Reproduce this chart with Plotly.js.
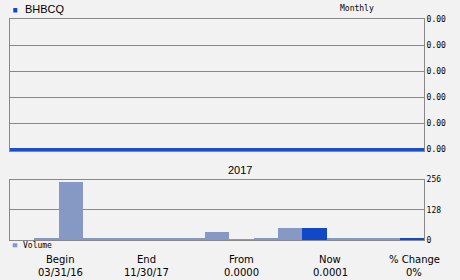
<!DOCTYPE html>
<html>
<head>
<meta charset="utf-8">
<script src="https://cdn.plot.ly/plotly-3.0.1.min.js"></script>
<style>html,body{margin:0;padding:0;background:#f2f2f2;}#chart{width:460px;height:280px;}</style>
</head>
<body>
<div id="chart"></div>
<script>
// ---- data ----
var periods = [0,1,2,3,4,5,6,7,8,9,10,11,12,13,14,15,16];
var price = [0,0,0,0,0,0,0,0,0,0,0,0,0,0,0,0,0];
var volume = [0,7,247,7,7,8,7,7,33,4,7,52,52,7,7,7,7];
var highlightIdx = [12,16];
var priceTicks = [0,0.0005,0.001,0.0015,0.002,0.0025];
var volumeTicks = [0,128,256];
var symbol = 'BHBCQ';
var yearLabel = '2017';
var statHeads = ['Begin','End','From','Now','% Change'];
var statVals = ['03/31/16','11/30/17','0.0000','0.0001','0%'];

// ---- layout helpers ----
var W=460,H=280,L=10,R=36,T=19,B=40;
var pw=W-L-R, ph=H-T-B;
function px(x){return (x-L)/pw;}
function py(y){return (H-B-y)/ph;}

var light='#8599c4', dark='#1048c8', grid='#888888';
var mono='DejaVu Sans Mono, monospace';
var sans='DejaVu Sans, sans-serif';

var barColors = volume.map(function(v,i){return highlightIdx.indexOf(i)>=0?dark:light;});

var traces=[
 {x:periods,y:price,type:'scatter',mode:'lines',xaxis:'x',yaxis:'y',
  line:{color:'#1a4fc8',width:3},hoverinfo:'skip'},
 {x:periods,y:volume,type:'bar',xaxis:'x2',yaxis:'y2',
  marker:{color:barColors,line:{width:0}},hoverinfo:'skip'}
];

var statX=[60,146.5,241.5,330,414];
var ann=[
 {text:symbol,x:px(22.5),y:py(9),xanchor:'left',yanchor:'middle',showarrow:false,xref:'paper',yref:'paper',
  font:{family:'Liberation Sans Narrow, Liberation Sans, sans-serif',size:11,color:'#000'}},
 {text:'Monthly',x:px(357),y:py(9),xanchor:'center',yanchor:'middle',showarrow:false,xref:'paper',yref:'paper',
  font:{family:mono,size:8,color:'#000'}},
 {text:yearLabel,x:px(239.5),y:py(170),xanchor:'center',yanchor:'middle',showarrow:false,xref:'paper',yref:'paper',
  font:{family:'Liberation Sans, sans-serif',size:11,color:'#000'}},
 {text:'Volume',x:px(20.5),y:py(245.3),xanchor:'left',yanchor:'middle',showarrow:false,xref:'paper',yref:'paper',
  font:{family:mono,size:8,color:'#000'}}
];
statHeads.forEach(function(h,i){
 ann.push({text:h,x:px(statX[i]),y:py(259.3),xanchor:'center',yanchor:'middle',showarrow:false,xref:'paper',yref:'paper',
  font:{family:sans,size:10,color:'#000'}});
 ann.push({text:statVals[i],x:px(statX[i]),y:py(272.7),xanchor:'center',yanchor:'middle',showarrow:false,xref:'paper',yref:'paper',
  font:{family:sans,size:10,color:'#000'}});
});

var layout={
 width:W,height:H,margin:{l:L,r:R,t:T,b:B,pad:0},
 paper_bgcolor:'#f2f2f2',plot_bgcolor:'#f2f2f2',showlegend:false,bargap:0,
 xaxis:{domain:[0,1],range:[0,16],anchor:'y',showgrid:false,zeroline:false,showticklabels:false,ticks:'',
  showline:true,mirror:true,linecolor:grid,linewidth:1},
 yaxis:{domain:[py(151),1],range:[-0.00003,0.0025],side:'right',tickvals:priceTicks,tickformat:'.2f',
  showgrid:true,gridcolor:grid,gridwidth:1,zeroline:false,ticks:'',showline:true,mirror:true,linecolor:grid,linewidth:1,
  tickfont:{family:mono,size:8,color:'#000'}},
 xaxis2:{domain:[0,1],range:[-0.5,16.5],anchor:'y2',showgrid:false,zeroline:false,showticklabels:false,ticks:'',
  showline:true,mirror:true,linecolor:grid,linewidth:1},
 yaxis2:{domain:[0,py(179.5)],range:[0,256],side:'right',anchor:'x2',tickvals:volumeTicks,
  showgrid:true,gridcolor:grid,gridwidth:1,zeroline:false,ticks:'',showline:true,mirror:true,linecolor:grid,linewidth:1,
  tickfont:{family:mono,size:8,color:'#000'}},
 shapes:[
  {type:'rect',xref:'paper',yref:'paper',x0:px(13.3),x1:px(17.3),y0:py(8),y1:py(12.5),fillcolor:dark,line:{width:0}},
  {type:'rect',xref:'paper',yref:'paper',x0:px(12.7),x1:px(17.3),y0:py(243.3),y1:py(247.3),fillcolor:light,line:{width:0}}
 ],
 annotations:ann
};
Plotly.newPlot('chart',traces,layout,{staticPlot:true,displayModeBar:false});
</script>
</body>
</html>
